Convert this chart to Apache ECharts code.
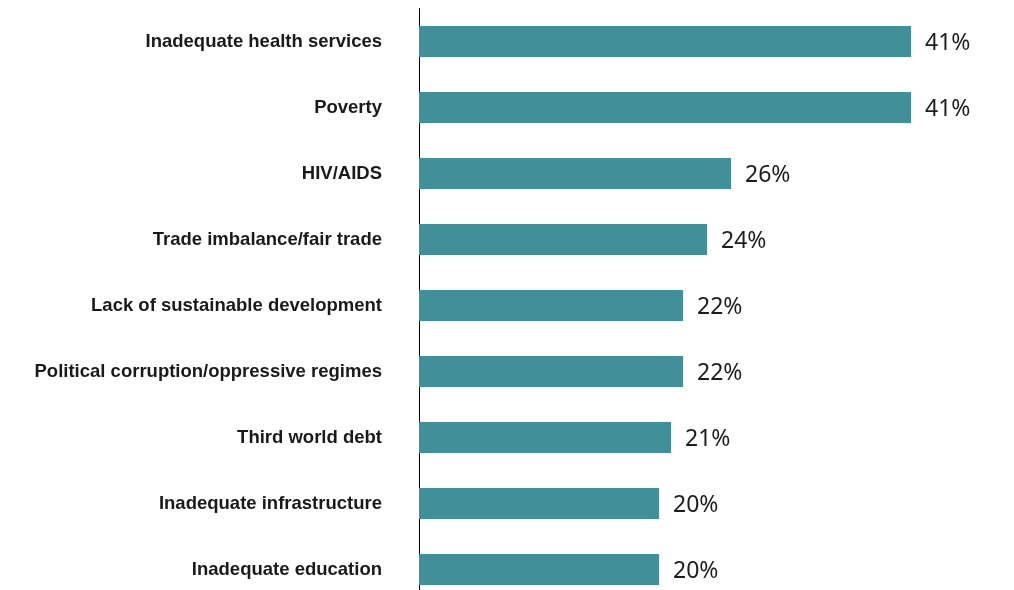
<!DOCTYPE html>
<html>
<head>
<meta charset="utf-8">
<style>
  html, body { margin: 0; padding: 0; background: #ffffff; overflow: hidden; }
  #chart { width: 1014px; height: 606px; }
</style>
<script src="https://cdn.jsdelivr.net/npm/echarts@6/dist/echarts.min.js"></script>
</head>
<body>
<div id="chart"></div>
<script>
// Issues listed top to bottom
const categories = [
  'Inadequate health services',
  'Poverty',
  'HIV/AIDS',
  'Trade imbalance/fair trade',
  'Lack of sustainable development',
  'Political corruption/oppressive regimes',
  'Third world debt',
  'Inadequate infrastructure',
  'Inadequate education'
];
// Share of respondents, percent
const values = [41, 41, 26, 24, 22, 22, 21, 20, 20];

const chart = echarts.init(document.getElementById('chart'), null, { renderer: 'canvas' });

chart.setOption({
  animation: false,
  backgroundColor: '#ffffff',
  grid: {
    left: 419,
    top: 8.5,
    right: 55,
    height: 594,
    containLabel: false
  },
  xAxis: {
    type: 'value',
    min: 0,
    max: 45,
    show: false
  },
  yAxis: {
    type: 'category',
    inverse: true,
    data: categories,
    axisLine: { show: true, lineStyle: { color: '#000000', width: 1 } },
    axisTick: { show: false },
    splitLine: { show: false },
    axisLabel: {
      margin: 37,
      color: '#1a1a1a',
      fontFamily: 'Liberation Sans, Arial, sans-serif',
      fontWeight: 'bold',
      fontSize: 18.5
    }
  },
  series: [{
    type: 'bar',
    data: values,
    barWidth: 31,
    itemStyle: { color: '#408F99' },
    label: {
      show: true,
      position: 'right',
      distance: 14,
      offset: [0, 1.5],
      formatter: '{c}%',
      color: '#1c1c1c',
      fontFamily: 'Noto Sans, Open Sans, sans-serif',
      fontSize: 23
    }
  }]
});
</script>
</body>
</html>
